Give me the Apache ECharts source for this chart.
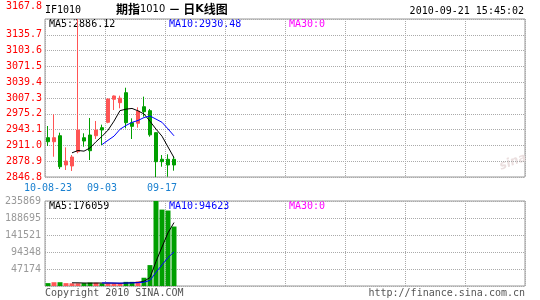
<!DOCTYPE html>
<html><head><meta charset="utf-8">
<script src="https://cdn.jsdelivr.net/npm/echarts@6/dist/echarts.min.js"></script>
<style>html,body{margin:0;padding:0;background:#fff}#c{width:540px;height:300px}</style>
</head><body><div id="c"></div>
<script>
const dates = ['2010-08-23','2010-08-24','2010-08-25','2010-08-26','2010-08-27','2010-08-30','2010-08-31','2010-09-01','2010-09-02','2010-09-03','2010-09-06','2010-09-07','2010-09-08','2010-09-09','2010-09-10','2010-09-13','2010-09-14','2010-09-15','2010-09-16','2010-09-17','2010-09-20','2010-09-21'];
const opens  = [2926.7,2918.5,2930.7,2871.2,2869.2,2898.2,2926.6,2932.1,2930.7,2947.0,2958.0,3004.7,2997.8,3018.1,2957.1,2955.9,2989.6,2981.5,2936.8,2882.8,2882.8,2882.8];
const closes = [2918.5,2926.7,2867.7,2879.3,2887.4,2942.3,2919.9,2900.2,2942.3,2942.3,3005.3,3011.4,3007.0,2957.1,2949.7,2980.9,2979.5,2932.4,2877.9,2877.9,2871.2,2871.2];
const lows   = [2909.8,2888.0,2863.1,2861.0,2859.0,2895.0,2908.4,2881.3,2924.0,2911.8,2956.0,2982.9,2986.4,2945.7,2924.0,2946.9,2969.3,2928.7,2846.8,2867.7,2847.4,2859.6];
const highs  = [2950.4,2974.2,2936.8,2907.1,2891.5,3167.8,2935.6,2966.7,2960.6,2953.1,3006.5,3012.5,3012.0,3028.2,2966.0,2988.4,3010.0,2985.0,2937.5,2891.5,2892.9,2888.0];
const volumes = [8000,10500,10500,8000,7500,7500,8000,9500,9000,7000,7500,7000,7500,11500,11500,12500,22935,58000,235869,212000,209426,165000];
const priceTickLabels = ['2846.8','2878.9','2911.0','2943.1','2975.2','3007.3','3039.4','3071.5','3103.6','3135.7','3167.8'];
const volTickLabels = ['0','47174','94348','141521','188695','235869'];
const xTickIndex = [0, 9, 19];
const xTickLabels = ['10-08-23','09-03','09-17'];
const SLOTS = 80;

const UP = '#ff5555', DOWN = '#009f00';
const MONO = 'DejaVu Sans Mono';

function ma(arr, n) {
  return arr.map((v, i) => {
    if (i < n - 1) return '-';
    let s = 0; for (let k = i - n + 1; k <= i; k++) s += arr[k];
    return s / n;
  });
}
const cats = [];
for (let i = 0; i < SLOTS; i++) cats.push(i < dates.length ? dates[i] : '');
const kData = dates.map((d, i) => [opens[i], closes[i], lows[i], highs[i]]);
const ma5 = ma(closes, 5), ma10 = ma(closes, 10);
const vma5 = ma(volumes, 5), vma10 = ma(volumes, 10);
const volData = volumes.map((v, i) => ({ value: v, itemStyle: { color: closes[i] >= opens[i] ? UP : DOWN } }));
const last = dates.length - 1;

const chart = echarts.init(document.getElementById('c'), null, { renderer: 'canvas' });
const split = { show: true, lineStyle: { type: 'dotted', color: '#aaa', width: 1 } };
function txt(x, y, text, fill, align, font) {
  return { type: 'text', x: x, y: y, silent: true,
    style: { text: text, fill: fill, align: align || 'left', verticalAlign: 'middle', font: font || ('10px ' + MONO) } };
}
chart.setOption({
  animation: false,
  backgroundColor: '#fff',
  grid: [
    { left: 45, top: 19, width: 480, height: 158, show: true, borderColor: '#999', borderWidth: 1, backgroundColor: 'transparent' },
    { left: 45, top: 201, width: 480, height: 85, show: true, borderColor: '#999', borderWidth: 1, backgroundColor: 'transparent' }
  ],
  xAxis: [
    { type: 'category', gridIndex: 0, data: cats, boundaryGap: true,
      axisLine: { show: false }, axisTick: { show: false },
      axisLabel: { interval: (i) => xTickIndex.includes(i), formatter: (v, i) => xTickLabels[xTickIndex.indexOf(i)] || '',
        color: '#1a80d0', fontFamily: MONO, fontSize: 10, margin: 6 },
      splitLine: { show: true, interval: (i) => i % 10 === 0, lineStyle: { type: 'dotted', color: '#aaa' } } },
    { type: 'category', gridIndex: 1, data: cats, boundaryGap: true,
      axisLine: { show: false }, axisTick: { show: false }, axisLabel: { show: false },
      splitLine: { show: true, interval: (i) => i % 10 === 0, lineStyle: { type: 'dotted', color: '#aaa' } } }
  ],
  yAxis: [
    { type: 'value', gridIndex: 0, min: 2846.8, max: 3167.8, interval: 32.1,
      axisLine: { show: false }, axisTick: { show: false }, splitLine: split,
      axisLabel: { color: '#ff0000', fontFamily: MONO, fontSize: 10, margin: 3,
        formatter: (v, i) => {
          const s = priceTickLabels[i];
          return i === priceTickLabels.length - 1 ? '{t|' + s + '}' : s;
        },
        rich: { t: { color: '#ff0000', fontFamily: MONO, fontSize: 10, padding: [0, 0, 25, 0] } } } },
    { type: 'value', gridIndex: 1, min: 0, max: 235869, interval: 47173.8,
      axisLine: { show: false }, axisTick: { show: false }, splitLine: split,
      axisLabel: { color: '#999', fontFamily: MONO, fontSize: 10, margin: 4, showMinLabel: false,
        formatter: (v, i) => volTickLabels[i] } }
  ],
  series: [
    { type: 'candlestick', xAxisIndex: 0, yAxisIndex: 0, data: kData, barWidth: 4,
      itemStyle: { color: UP, color0: DOWN, borderColor: UP, borderColor0: DOWN, borderWidth: 1 } },
    { type: 'line', xAxisIndex: 0, yAxisIndex: 0, data: ma5, symbol: 'none', lineStyle: { color: '#000', width: 1 }, z: 5 },
    { type: 'line', xAxisIndex: 0, yAxisIndex: 0, data: ma10, symbol: 'none', lineStyle: { color: '#0000ff', width: 1 }, z: 5 },
    { type: 'bar', xAxisIndex: 1, yAxisIndex: 1, data: volData, barWidth: 5 },
    { type: 'line', xAxisIndex: 1, yAxisIndex: 1, data: vma5, symbol: 'none', lineStyle: { color: '#000', width: 1 }, z: 5 },
    { type: 'line', xAxisIndex: 1, yAxisIndex: 1, data: vma10, symbol: 'none', lineStyle: { color: '#0000ff', width: 1 }, z: 5 }
  ],
  graphic: [
    txt(45, 10, 'IF1010', '#000'),
    { type: 'text', x: 116, y: 9, silent: true, style: {
      text: '{b|期指}{n|1010} {b|－ 日}{k|K}{b|线图}', verticalAlign: 'middle', fill: '#000',
      rich: { b: { font: 'bold 12px "Noto Sans CJK SC"' }, n: { font: '11px "DejaVu Sans Condensed"' }, k: { font: 'bold 11px "DejaVu Sans"' } } } },
    txt(524, 11, '2010-09-21 15:45:02', '#000', 'right'),
    txt(49, 24, 'MA5:' + ma5[last].toFixed(2), '#000'),
    txt(169, 24, 'MA10:' + ma10[last].toFixed(2), '#0000ff'),
    txt(289, 24, 'MA30:0', '#ff00ff'),
    txt(49, 206, 'MA5:' + Math.round(vma5[last]), '#000'),
    txt(169, 206, 'MA10:' + Math.round(vma10[last]), '#0000ff'),
    txt(289, 206, 'MA30:0', '#ff00ff'),
    txt(45, 293, 'Copyright 2010 SINA.COM', '#555'),
    txt(525, 293, 'http://finance.sina.com.cn', '#555', 'right'),
    { type: 'text', x: 513, y: 162, rotation: 0.35, silent: true,
      style: { text: 'sina', fill: '#eadede', align: 'center', verticalAlign: 'middle', font: 'italic bold 12px "DejaVu Sans"' } }
  ]
});
</script></body></html>
